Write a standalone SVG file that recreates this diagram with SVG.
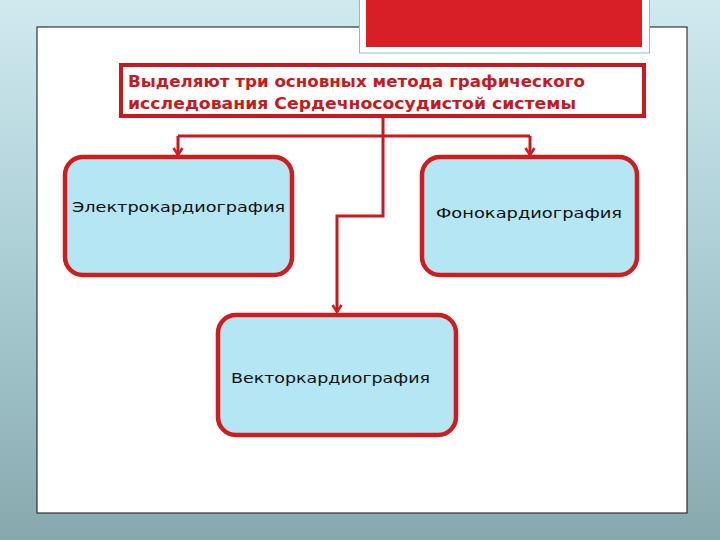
<svg xmlns="http://www.w3.org/2000/svg" width="720" height="540" viewBox="0 0 720 540">
<defs>
<linearGradient id="bg" x1="0" y1="0" x2="0" y2="1">
<stop offset="0" stop-color="#cfe9ef"/>
<stop offset="0.5" stop-color="#aacdd4"/>
<stop offset="1" stop-color="#87a9ae"/>
</linearGradient>
<marker id="arr" markerWidth="12" markerHeight="12" refX="9" refY="6" orient="auto" markerUnits="userSpaceOnUse" viewBox="0 0 12 12">
<path d="M2,1.5 L9,6 L2,10.5" fill="none" stroke="#d01c1f" stroke-width="2.5"/>
</marker>
<style>
.box{fill:#b5e6f3;stroke:#d01c1f;stroke-width:4.5}
.lbl{font-family:"DejaVu Sans","Liberation Sans",sans-serif;font-size:14px;fill:#111}
.conn{fill:none;stroke:#c8191e;stroke-width:3}
.ttl{font-family:"DejaVu Sans","Liberation Sans",sans-serif;font-size:15px;font-weight:bold;fill:#c8191e}
</style>
</defs>
<rect x="0" y="0" width="720" height="540" fill="url(#bg)"/>
<rect x="37" y="27" width="650" height="486" fill="#ffffff" stroke="#111" stroke-width="1"/>
<g id="tab">
<rect x="359.5" y="-2" width="290" height="55" fill="#ffffff" stroke="#7fc4c8" stroke-width="1"/>
<rect x="366" y="-2" width="276" height="49" fill="#d81e27"/>
</g>
<g id="title">
<rect x="121" y="65" width="523" height="51" fill="#ffffff" stroke="#c8191e" stroke-width="4"/>
<text class="ttl" x="128" y="87" textLength="457" lengthAdjust="spacingAndGlyphs">Выделяют три основных метода графического</text>
<text class="ttl" x="128" y="109" textLength="448" lengthAdjust="spacingAndGlyphs">исследования Сердечнососудистой системы</text>
</g>
<g id="connectors">
<path class="conn" d="M383,117 V136"/>
<path class="conn" d="M178,136 H530"/>
<path class="conn" d="M178,136 V155" marker-end="url(#arr)"/>
<path class="conn" d="M530,136 V155" marker-end="url(#arr)"/>
<path class="conn" d="M383,136 V216 H337 V312" marker-end="url(#arr)"/>
</g>
<g id="electro">
<rect class="box" x="65" y="157" width="227" height="118" rx="18"/>
<text class="lbl" x="72" y="212" textLength="213" lengthAdjust="spacingAndGlyphs">Электрокардиография</text>
</g>
<g id="phono">
<rect class="box" x="422" y="157" width="215" height="118" rx="18"/>
<text class="lbl" x="436" y="218" textLength="186" lengthAdjust="spacingAndGlyphs">Фонокардиография</text>
</g>
<g id="vector">
<rect class="box" x="218" y="315" width="238" height="120" rx="18"/>
<text class="lbl" x="231" y="383" textLength="199" lengthAdjust="spacingAndGlyphs">Векторкардиография</text>
</g>
</svg>
